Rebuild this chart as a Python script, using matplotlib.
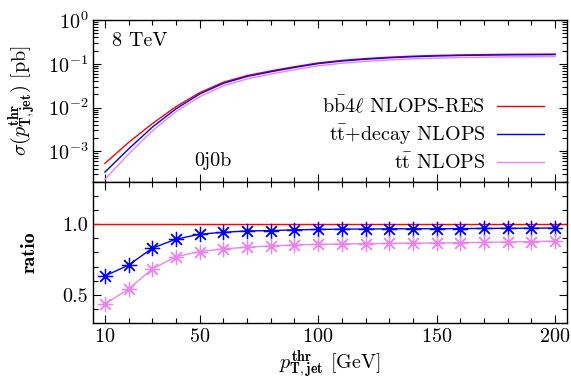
import numpy as np
import matplotlib
matplotlib.use('Agg')
import matplotlib.pyplot as plt
import matplotlib.ticker as ticker

plt.rcParams['font.family'] = 'serif'
plt.rcParams['font.serif'] = ['cmr10']
plt.rcParams['mathtext.fontset'] = 'cm'
plt.rcParams['axes.unicode_minus'] = False
plt.rcParams['axes.formatter.use_mathtext'] = True

# data: cumulative cross section vs jet pT threshold
pt = [10, 20, 30, 40, 50, 60, 70, 80, 90, 100, 110, 120, 130, 140,
      150, 160, 170, 180, 190, 200]
sig_bb4l = [5.3e-4, 1.6e-3, 4.3e-3, 1.05e-2, 2.2e-2, 3.8e-2, 5.4e-2, 6.9e-2,
            8.6e-2, 1.05e-1, 1.2e-1, 1.32e-1, 1.42e-1, 1.5e-1, 1.56e-1,
            1.6e-1, 1.63e-1, 1.65e-1, 1.66e-1, 1.67e-1]
ratio_ttdec = [0.633, 0.71, 0.83, 0.894, 0.929, 0.943, 0.952, 0.955, 0.96,
               0.963, 0.965, 0.966, 0.967, 0.968, 0.968, 0.969, 0.970,
               0.971, 0.972, 0.973]
ratio_tt = [0.433, 0.541, 0.683, 0.77, 0.806, 0.825, 0.837, 0.846, 0.853,
            0.857, 0.860, 0.862, 0.864, 0.866, 0.867, 0.869, 0.871,
            0.874, 0.877, 0.88]

sig_ttdec = np.array(sig_bb4l) * np.array(ratio_ttdec)
sig_tt = np.array(sig_bb4l) * np.array(ratio_tt)

fig = plt.figure(figsize=(5.71, 3.79), dpi=100)
ax1 = fig.add_axes([0.163, 0.520, 0.830, 0.427])
ax2 = fig.add_axes([0.163, 0.148, 0.830, 0.372])

fs = 14.5
lw = 1.0

ax1.plot(pt, sig_bb4l, color='red', lw=lw, label=r'$\mathrm{b\bar{b}}4\ell$ NLOPS-RES')
ax1.plot(pt, sig_ttdec, color='blue', lw=lw, label=r'$\mathrm{t\bar{t}}$+decay NLOPS')
ax1.plot(pt, sig_tt, color='violet', lw=lw, label=r'$\mathrm{t\bar{t}}$ NLOPS')
ax1.set_yscale('log')
ax1.set_ylim(2e-4, 1)
ax1.set_xlim(5, 205)
ax1.set_ylabel(r'$\sigma(p_{\mathbf{T,jet}}^{\mathbf{thr}})$ [pb]', fontsize=fs)
ax1.yaxis.set_label_coords(-0.115, 0.5)
ax1.tick_params(labelbottom=False)
ax1.text(0.04, 0.87, '8 TeV', transform=ax1.transAxes, fontsize=fs, va='center')
ax1.text(0.213, 0.13, '0j0b', transform=ax1.transAxes, fontsize=fs, va='center')
leg = ax1.legend(loc='lower right', bbox_to_anchor=(0.985, -0.045), frameon=False,
                 markerfirst=False, fontsize=fs, handlelength=2.3,
                 labelspacing=0.3, borderpad=0.3, handletextpad=0.6)
for t in leg.get_texts():
    t.set_ha('right')

ax2.axhline(1.0, color='red', lw=lw)
mk = (8, 2, 0)
ax2.plot(pt, ratio_ttdec, color='blue', lw=lw, marker=mk, ms=11, mew=0.9)
ax2.plot(pt, ratio_tt, color='violet', lw=lw, marker=mk, ms=11, mew=0.9)
ax2.set_xlim(5, 205)
ax2.set_ylim(0.3, 1.3)
ax2.set_ylabel('ratio', fontsize=fs, fontfamily='cmb10')
ax2.yaxis.set_label_coords(-0.115, 0.5)
ax2.set_xlabel(r'$p_{\mathbf{T,jet}}^{\mathbf{thr}}$ [GeV]', fontsize=fs)
ax2.xaxis.set_label_coords(0.5, -0.18)
ax2.set_xticks([10, 50, 100, 150, 200])
ax2.xaxis.set_minor_locator(ticker.MultipleLocator(10))
ax2.yaxis.set_major_locator(ticker.FixedLocator([0.5, 1.0]))
ax2.yaxis.set_major_formatter(ticker.FormatStrFormatter('%.1f'))
ax2.yaxis.set_minor_locator(ticker.MultipleLocator(0.1))

ax1.set_xticks([10, 50, 100, 150, 200])
ax1.xaxis.set_minor_locator(ticker.MultipleLocator(10))

for ax in (ax1, ax2):
    ax.tick_params(which='both', direction='in', top=True, right=True,
                   labelsize=fs, width=0.8)
    ax.tick_params(which='major', length=6)
    ax.tick_params(which='minor', length=3.5)
    for s in ax.spines.values():
        s.set_linewidth(1.0)

fig.savefig('out.png', dpi=100)
